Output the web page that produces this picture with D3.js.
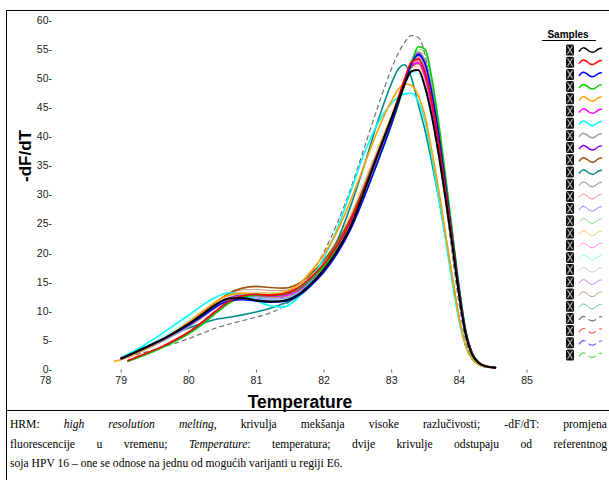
<!DOCTYPE html>
<html><head><meta charset="utf-8">
<script src="https://cdn.jsdelivr.net/npm/d3@7/dist/d3.min.js"></script>
<style>body{margin:0;background:#fff}svg{display:block}</style>
</head><body>
<svg id="c" width="609" height="480"></svg>
<script>
// ---------- DATA ----------
const temps = [78.9, 79.0, 79.1, 79.2, 79.4, 79.6, 79.8, 80.0, 80.2, 80.4, 80.6, 80.8, 81.0, 81.2, 81.4, 81.6, 81.8, 82.0, 82.2, 82.4, 82.6, 82.8, 83.0, 83.1, 83.2, 83.3, 83.4, 83.5, 83.6, 83.7, 83.8, 83.9, 84.0, 84.1, 84.2, 84.3, 84.4, 84.55];
const xTicks = [78, 79, 80, 81, 82, 83, 84, 85];
const yTicks = [0, 5, 10, 15, 20, 25, 30, 35, 40, 45, 50, 55, 60];

const sBlack   = [null,1.8,2.3,2.8,3.9,5.0,6.3,7.7,9.3,11.0,12.1,12.2,11.8,11.6,11.7,12.6,14.5,17.0,20.3,24.5,30.5,36.8,43.0,46.0,49.0,51.2,51.4,48.5,43.5,37.0,29.5,21.5,13.0,6.0,2.4,1.0,0.45,0.2];
const sRed     = [null,null,1.4,1.9,2.8,3.8,5.0,6.3,8.0,9.9,11.6,12.6,12.8,12.7,12.9,13.8,15.6,18.0,21.2,25.5,31.0,37.0,43.0,46.5,50.0,52.8,53.3,51.0,46.0,39.0,31.0,22.5,13.5,6.2,2.5,1.0,0.45,0.2];
const sBlue    = [null,1.7,2.2,2.7,3.8,4.9,6.2,7.5,9.0,10.6,11.7,11.9,11.7,11.5,11.6,12.4,14.2,16.6,19.8,24.0,29.5,35.6,42.0,45.5,49.3,52.5,54.0,52.5,47.5,40.5,32.0,23.0,14.0,6.5,2.6,1.0,0.45,0.2];
const sGreen   = [null,null,1.3,1.7,2.6,3.6,4.7,6.0,7.6,9.5,11.3,12.4,12.7,12.6,12.8,13.6,15.3,17.6,20.6,24.6,29.8,35.6,41.8,45.3,49.0,52.6,55.4,55.0,50.0,42.5,33.5,24.0,14.5,6.8,2.7,1.1,0.5,0.2];
const sOrange  = [1.3,1.6,2.0,2.5,3.6,4.9,6.4,8.0,9.8,11.5,12.7,13.0,12.8,12.8,13.1,14.2,16.6,19.6,23.6,29.0,35.0,41.0,46.0,48.0,49.0,48.8,47.0,43.5,37.5,31.0,23.5,16.0,9.0,4.0,1.7,0.7,0.35,0.2];
const sMagenta = [null,null,1.4,1.8,2.7,3.7,4.9,6.2,7.9,9.8,11.6,12.6,12.7,12.5,12.6,13.4,15.2,17.7,21.0,25.3,30.8,36.8,42.8,46.0,49.4,52.2,52.6,50.3,45.3,38.5,30.5,22.0,13.2,6.1,2.5,1.0,0.45,0.2];
const sCyan    = [null,1.9,2.5,3.1,4.5,6.0,7.6,9.2,10.9,12.3,13.1,12.8,11.8,10.9,10.6,12.0,15.0,19.0,24.0,30.5,37.0,42.2,45.6,46.7,47.3,47.4,46.0,42.5,36.5,29.5,22.5,15.0,8.5,4.0,1.7,0.7,0.35,0.2];
const sGray    = [null,1.7,2.1,2.6,3.6,4.7,5.9,7.2,8.8,10.5,11.9,12.6,12.6,12.4,12.5,13.3,15.0,17.4,20.6,24.8,30.2,36.2,42.3,45.8,49.6,53.0,54.5,53.0,48.0,41.0,32.5,23.5,14.2,6.6,2.6,1.0,0.45,0.2];
const sPurple  = [null,1.7,2.1,2.6,3.7,4.8,6.0,7.3,8.9,10.6,12.0,12.7,12.8,12.7,12.8,13.5,15.1,17.4,20.5,24.6,30.0,36.0,42.2,45.7,49.5,52.8,54.3,52.9,48.0,41.0,32.5,23.5,14.2,6.6,2.6,1.0,0.45,0.2];
const sBrown   = [null,1.7,2.1,2.6,3.6,4.8,6.2,7.7,9.5,11.4,13.0,13.9,14.2,14.0,13.9,14.5,16.2,18.6,21.8,26.0,31.4,37.3,43.2,46.4,49.6,52.0,52.6,50.5,45.5,38.8,30.8,22.2,13.4,6.2,2.5,1.0,0.45,0.2];
const sTeal    = [null,1.8,2.3,2.9,3.9,5.0,6.1,7.0,7.8,8.5,8.9,9.3,9.8,10.4,11.2,12.3,14.2,17.5,22.0,28.0,35.0,42.5,49.0,51.5,52.3,50.0,45.5,41.0,35.5,29.5,23.0,16.0,9.0,4.0,1.7,0.7,0.35,0.2];
const sGrayThin= [null,1.8,2.2,2.7,3.8,4.9,6.1,7.5,9.1,10.8,12.2,12.8,12.9,12.8,12.9,13.7,15.4,17.8,21.0,25.2,30.6,36.6,42.6,46.0,49.5,52.4,53.4,51.5,46.5,39.5,31.3,22.6,13.6,6.3,2.5,1.0,0.45,0.2];
const sLtRed   = [null,1.8,2.2,2.7,3.8,4.9,6.2,7.6,9.2,10.9,12.2,12.7,12.6,12.3,12.4,13.2,15.0,17.4,20.6,24.8,30.3,36.3,42.5,45.9,49.4,52.3,53.6,52.0,47.2,40.2,31.8,22.9,13.8,6.4,2.6,1.0,0.45,0.2];
const sLtBlue  = [null,1.7,2.1,2.6,3.7,4.8,6.0,7.4,9.0,10.7,12.0,12.4,12.2,12.0,12.1,13.0,14.8,17.2,20.4,24.6,30.0,36.0,42.1,45.6,49.2,52.2,53.8,52.6,47.8,40.8,32.2,23.2,14.0,6.5,2.6,1.0,0.45,0.2];
const sLtGreen = [null,null,1.4,1.8,2.7,3.7,4.8,6.1,7.7,9.6,11.4,12.5,12.9,12.9,13.0,13.8,15.5,17.8,20.8,24.9,30.2,36.0,42.0,45.4,49.0,52.3,54.5,54.0,49.4,42.0,33.0,23.7,14.3,6.7,2.7,1.1,0.5,0.2];
const sLtOrange= [null,1.7,2.1,2.6,3.7,4.9,6.3,7.8,9.6,11.4,12.7,13.2,13.2,13.1,13.3,14.2,16.2,18.8,22.2,26.6,32.2,38.0,43.6,46.6,49.6,51.8,52.0,49.6,44.6,38.0,30.0,21.6,13.0,6.0,2.4,1.0,0.45,0.2];
const sLtMagenta=[null,1.8,2.2,2.7,3.8,5.0,6.3,7.7,9.4,11.1,12.4,12.9,12.8,12.6,12.7,13.5,15.3,17.8,21.1,25.4,30.9,36.9,42.9,46.2,49.6,52.2,52.9,50.8,45.8,39.0,31.0,22.4,13.4,6.2,2.5,1.0,0.45,0.2];
const sLtCyan  = [null,1.8,2.3,2.9,4.1,5.4,6.8,8.3,9.9,11.5,12.6,12.7,12.2,11.8,11.9,12.9,15.0,17.8,21.4,26.0,31.8,37.8,43.5,46.4,49.2,51.0,50.8,48.0,43.0,36.5,29.0,21.0,12.6,5.8,2.3,0.9,0.4,0.2];
const sLtGray  = [null,1.7,2.1,2.6,3.7,4.8,6.1,7.5,9.1,10.8,12.2,12.8,12.8,12.6,12.7,13.5,15.2,17.6,20.8,25.0,30.4,36.4,42.4,45.8,49.4,52.5,53.8,52.0,47.0,40.0,31.6,22.8,13.7,6.3,2.5,1.0,0.45,0.2];
const sLtPurple= [null,1.7,2.1,2.6,3.7,4.8,6.0,7.4,9.0,10.7,12.1,12.6,12.5,12.3,12.4,13.2,14.9,17.3,20.5,24.7,30.1,36.1,42.2,45.7,49.4,52.6,54.0,52.4,47.4,40.4,32.0,23.0,13.9,6.4,2.6,1.0,0.45,0.2];
const sLtBrown = [null,1.7,2.1,2.6,3.7,4.9,6.3,7.8,9.6,11.5,12.9,13.6,13.7,13.5,13.5,14.2,15.9,18.3,21.5,25.7,31.1,37.0,42.9,46.1,49.4,51.9,52.4,50.3,45.3,38.6,30.6,22.1,13.3,6.1,2.5,1.0,0.45,0.2];
const sLtTeal  = [null,1.8,2.2,2.7,3.8,4.9,6.2,7.6,9.2,10.9,12.2,12.6,12.4,12.2,12.3,13.1,14.9,17.3,20.5,24.7,30.1,36.1,42.2,45.6,49.1,51.9,52.8,50.9,46.0,39.2,31.1,22.4,13.5,6.2,2.5,1.0,0.45,0.2];
const sDashGray= [null,1.6,2.0,2.4,3.0,3.7,4.4,5.2,6.1,7.0,7.7,8.3,8.9,9.6,10.7,12.8,16.0,20.0,25.0,31.0,38.0,45.0,51.5,54.2,56.2,57.3,57.0,54.0,47.0,38.0,29.0,20.0,11.5,5.0,2.0,0.8,0.4,0.2];
const sDashRed = [null,null,1.4,1.9,2.8,3.8,5.0,6.4,8.1,10.0,11.7,12.7,12.9,12.8,13.0,13.8,15.5,17.9,21.1,25.3,30.8,36.7,42.7,46.1,49.6,52.4,53.0,50.8,45.8,38.9,30.9,22.4,13.4,6.2,2.5,1.0,0.45,0.2];
const sDashBlue= [null,1.7,2.2,2.7,3.8,4.9,6.2,7.5,9.1,10.7,11.9,12.1,11.9,11.7,11.8,12.6,14.4,16.8,20.0,24.2,29.7,35.8,42.0,45.5,49.2,52.2,53.5,52.0,47.0,40.0,31.6,22.8,13.8,6.4,2.6,1.0,0.45,0.2];
const sDashGreen=[null,null,1.3,1.7,2.6,3.6,4.8,6.1,7.7,9.6,11.4,12.5,12.8,12.7,12.9,13.7,15.4,17.7,20.7,24.7,29.9,35.7,41.9,45.4,49.0,52.5,55.0,54.4,49.6,42.2,33.2,23.8,14.4,6.7,2.7,1.1,0.5,0.2];

const series = [sBlack, sRed, sBlue, sGreen, sOrange, sMagenta, sCyan, sGray, sPurple, sBrown, sTeal, sGrayThin,
  sLtRed, sLtBlue, sLtGreen, sLtOrange, sLtMagenta, sLtCyan, sLtGray, sLtPurple, sLtBrown, sLtTeal,
  sDashGray, sDashRed, sDashBlue, sDashGreen];

// ---------- STYLES ----------
const seriesColors = ["#000000","#ff0000","#0000ff","#00cc00","#ffa000","#ff00ff","#00ffff","#a0a0a0","#8a00ee","#9a5514","#008b8b","#808080",
  "#ff8080","#8080ff","#80e080","#ffc070","#ff80ff","#80ffff","#cccccc","#c080ff","#c09a70","#60c0b0",
  "#707070","#ff6060","#6060ff","#60dd60"];
const seriesWidths = [2,1.6,1.6,1.6,1.6,1.6,1.6,1.6,1.6,1.6,1.6,1,1,1,1,1,1,1,1,1,1,1,1.2,1.2,1.2,1.2];
const seriesDash = series.map((s,i) => i >= 22 ? "5,3" : null);

const captionLines = [
  [[["HRM:",0]],[["high",1]],[["resolution",1]],[["melting",1],[",",0]],[["krivulja",0]],[["mekšanja",0]],[["visoke",0]],[["razlučivosti;",0]],[["-dF/dT:",0]],[["promjena",0]]],
  [[["fluorescencije",0]],[["u",0]],[["vremenu;",0]],[["Temperature",1],[":",0]],[["temperatura;",0]],[["dvije",0]],[["krivulje",0]],[["odstupaju",0]],[["od",0]],[["referentnog",0]]],
  [[["soja HPV 16 – one se odnose na jednu od mogućih varijanti u regiji E6.",0]]]
];

// ---------- CHART ----------
const svg = d3.select("#c");
const x = d3.scaleLinear().domain([78,85]).range([53,526.5]);
const y = d3.scaleLinear().domain([0,60]).range([369,20]);

// frame
svg.append("line").attr("x1",6.5).attr("x2",6.5).attr("y1",10.5).attr("y2",480).attr("stroke","#000");
svg.append("line").attr("x1",6).attr("x2",609).attr("y1",10.5).attr("y2",10.5).attr("stroke","#000");
svg.append("line").attr("x1",6).attr("x2",609).attr("y1",410.5).attr("y2",410.5).attr("stroke","#000");

// axes
const yAxis = svg.append("g").attr("transform","translate(52,0)")
  .call(d3.axisLeft(y).tickValues(yTicks).tickSize(0).tickPadding(0).tickFormat(d => d + "-"));
yAxis.select(".domain").remove();
yAxis.selectAll("text").attr("font-family","Liberation Sans, Arial, sans-serif").attr("font-size",10.5).attr("fill","#222");

const xAxis = svg.append("g").attr("transform","translate(0,369.5)")
  .call(d3.axisBottom(x).tickValues(xTicks).tickSize(3).tickPadding(4).tickFormat(d3.format("d")));
xAxis.select(".domain").remove();
xAxis.selectAll("line").attr("stroke","#666");
xAxis.selectAll("text").attr("font-family","Liberation Sans, Arial, sans-serif").attr("font-size",10.5).attr("fill","#222");
xAxis.selectAll(".tick").filter(d => d === 78).select("text").attr("dx",-8);
xAxis.selectAll(".tick").filter(d => d === 78).select("line").remove();

svg.append("text").attr("transform","translate(25,156) rotate(-90)")
  .attr("text-anchor","middle").attr("dominant-baseline","central")
  .attr("font-family","Liberation Sans, Arial, sans-serif").attr("font-weight","bold").attr("font-size",17)
  .text("-dF/dT");
svg.append("text").attr("x",300).attr("y",408).attr("text-anchor","middle")
  .attr("font-family","Liberation Sans, Arial, sans-serif").attr("font-weight","bold").attr("font-size",17.5)
  .text("Temperature");

// curves
const line = d3.line()
  .defined(d => d.v != null)
  .x(d => x(d.t)).y(d => y(d.v))
  .curve(d3.curveMonotoneX);
const order = d3.range(series.length).reverse();
svg.append("g").selectAll("path").data(order).join("path")
  .attr("d", i => line(series[i].map((v,k) => ({t: temps[k], v}))))
  .attr("fill","none")
  .attr("stroke", i => seriesColors[i])
  .attr("stroke-width", i => seriesWidths[i])
  .attr("stroke-dasharray", i => seriesDash[i])
  .attr("stroke-linejoin","round");

// legend
const lg = svg.append("g");
lg.append("text").attr("x",568).attr("y",38).attr("text-anchor","middle")
  .attr("font-family","Liberation Sans, Arial, sans-serif").attr("font-weight","bold").attr("font-size",10)
  .text("Samples");
lg.append("line").attr("x1",542).attr("x2",596).attr("y1",40.5).attr("y2",40.5).attr("stroke","#000");
const ly = d3.scalePoint().domain(d3.range(series.length)).range([50,355]);
const rows = lg.selectAll("g.row").data(d3.range(series.length)).join("g").attr("class","row")
  .attr("transform", i => `translate(0,${ly(i)})`);
rows.append("rect").attr("x",566).attr("y",-5.5).attr("width",8).attr("height",11).attr("rx",1.5).attr("fill","#111");
rows.append("path").attr("d","M567.5,-4L572.5,4M572.5,-4L567.5,4").attr("stroke","#bbb").attr("stroke-width",1.1);
rows.append("path").attr("d","M579,1.5C582,-3 584,-3 587,-0.5C590,2.5 592,3.5 595,1.5C598,-1 600,-2.5 602,-1.5")
  .attr("fill","none")
  .attr("stroke", i => seriesColors[i])
  .attr("stroke-width", i => Math.min(seriesWidths[i],1.5))
  .attr("stroke-dasharray", i => seriesDash[i] ? "8,4" : null);

// caption
const cap = svg.append("g").attr("font-family","Liberation Serif, 'Times New Roman', serif").attr("font-size",11.6).attr("fill","#000");
const capLeft = 10, capRight = 607;
captionLines.forEach((words, li) => {
  const yy = 428 + li*19.5;
  const els = words.map(w => {
    const t = cap.append("text").attr("y", yy);
    w.forEach(seg => t.append("tspan").attr("font-style", seg[1] ? "italic" : "normal").text(seg[0]));
    return t;
  });
  const widths = els.map(t => t.node().getComputedTextLength());
  const total = d3.sum(widths);
  const gap = (li < 2 && els.length > 1) ? (capRight - capLeft - total) / (els.length - 1) : 0;
  let cx = capLeft;
  els.forEach((t,k) => { t.attr("x", cx); cx += widths[k] + gap; });
});
</script>
</body></html>
